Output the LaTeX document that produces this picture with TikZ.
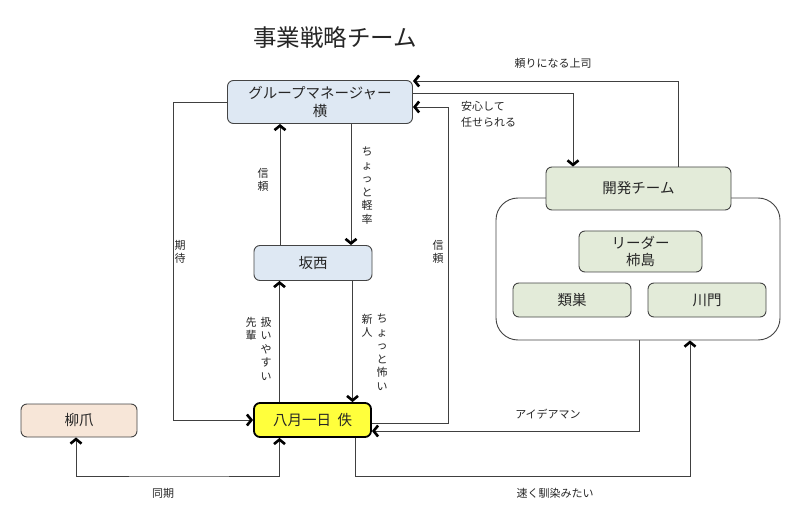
\documentclass[tikz,border=0pt]{standalone}
\usepackage{fontspec}
\setmainfont{Noto Sans CJK JP}
\usetikzlibrary{arrows.meta}
\definecolor{gmblue}{HTML}{DEE8F3}
\definecolor{devgreen}{HTML}{E3EBD9}
\definecolor{yanpink}{HTML}{F7E6D8}
\definecolor{hkyellow}{HTML}{FFFF3C}
\definecolor{edgegray}{HTML}{444444}
\tikzset{
  box/.style={draw=edgegray, line width=0.9pt, rounded corners=6pt, inner sep=1pt, align=center, font=\fontsize{14.5}{17.5}\selectfont, text=black!85},
  chev/.tip={Straight Barb[length=4.5pt,width=11pt,line width=2.6pt,color=black]},
  arr/.style={draw=black!75, line width=0.8pt, -chev},
  arrtwo/.style={draw=black!75, line width=0.8pt, chev-chev},
  lab/.style={font=\fontsize{11}{13}\selectfont, text=black!85, inner sep=0pt},
  vlab/.style={font=\fontsize{11}{13.5}\selectfont, text=black!85, inner sep=0pt, align=center, anchor=north}
}
\begin{document}
\begin{tikzpicture}[x=1pt,y=-1pt]
\useasboundingbox (0,0) rectangle (800,521);
\fill[white] (0,0) rectangle (800,521);
% title
\node[font=\fontsize{23.5}{26}\selectfont, text=black!85] (title) at (335,38) {事業戦略チーム};
% boxes
\node[box, fill=gmblue, minimum width=185pt, minimum height=43pt] (gm) at (320,102) {グループマネージャー\\横};
\node[box, fill=gmblue, minimum width=118pt, minimum height=35pt] (sk) at (313,263) {坂西};
\node[box, fill=hkyellow, line width=1.8pt, draw=black, minimum width=117pt, minimum height=34pt] (hk) at (312.5,420) {八月一日\ \ 佚};
\node[box, fill=yanpink, minimum width=116pt, minimum height=33pt] (yan) at (79,420.5) {柳爪};
\node[draw=edgegray, line width=0.9pt, rounded corners=22pt, minimum width=284pt, minimum height=142pt, inner sep=0pt] (cont) at (638,269) {};
\node[box, fill=devgreen, minimum width=185pt, minimum height=43pt] (dev) at (638.5,188.5) {開発チーム};
\node[box, fill=devgreen, minimum width=123pt, minimum height=41pt] (lead) at (640.5,251.5) {リーダー\\柿島};
\node[box, fill=devgreen, minimum width=118pt, minimum height=34pt] (rui) at (572,300) {類巣};
\node[box, fill=devgreen, minimum width=118pt, minimum height=34pt] (kawa) at (707,300) {川門};
% helper coordinates
\coordinate (c3) at (448,107);
\coordinate (c8) at (173,420);
\coordinate (c10) at (690,476);
\coordinate (c11) at (180,476);
% connectors
\draw[arr] ([xshift=39.5pt]dev.north) |- ([yshift=21pt]gm.east);
\draw[arr] ([yshift=9pt]gm.east) -| ([xshift=-65.5pt]dev.north);
\draw[arr] ([yshift=-3pt]hk.east) -| (c3) -- ([yshift=-5pt]gm.east);
\draw[arr] ([xshift=-33pt]sk.north) -- ([xshift=-33pt]sk.north |- gm.south);
\draw[arr] ([xshift=31pt]gm.south) -- ([xshift=31pt]gm.south |- sk.north);
\draw[arr] ([xshift=-33pt]hk.north) -- ([xshift=-33pt]hk.north |- sk.south);
\draw[arr] ([xshift=39.5pt]sk.south) -- ([xshift=39.5pt]sk.south |- hk.north);
\draw[arr] (gm.west) -| (c8) -- (hk.west);
\draw[arr] ([xshift=1pt]cont.south) |- ([yshift=-11pt]hk.east);
\draw[arr] ([xshift=42.5pt]hk.south) |- (c10) -- (c10 |- cont.south);
\draw[arrtwo] ([xshift=-3pt]yan.south) |- (c11) -| ([xshift=-33pt]hk.south);
% labels
\node[lab] (l1) at (553,63) {頼りになる上司};
\node[lab, align=left, anchor=north west, font=\fontsize{11}{16}\selectfont] (l2) at (461,101) {安心して\\任せられる};
\node[vlab] (l3) at (438,240) {信\\頼};
\node[vlab] (l4) at (263,168) {信\\頼};
\node[vlab] (l5) at (367,147) {ち\\ょ\\っ\\と\\軽\\率};
\node[vlab] (l6) at (180,240) {期\\待};
\node[vlab] (l7a) at (266,317) {扱\\い\\や\\す\\い};
\node[vlab] (l7b) at (251,317) {先\\輩};
\node[vlab] (l8a) at (382,314) {ち\\ょ\\っ\\と\\怖\\い};
\node[vlab] (l8b) at (367,314) {新\\人};
\node[lab] (l9) at (548,414) {アイデアマン};
\node[lab] (l10) at (555,493) {速く馴染みたい};
\node[lab] (l11) at (163,493) {同期};
\end{tikzpicture}
\end{document}
